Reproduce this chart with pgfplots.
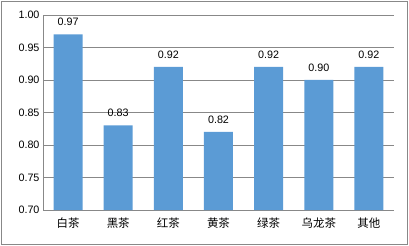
\documentclass[border=0pt]{standalone}
\usepackage{pgfplots}
\pgfplotsset{compat=1.18}
\usepackage{fontspec}
\setmainfont{Liberation Sans}
\newfontfamily\cjk{Noto Sans CJK SC}
\definecolor{barblue}{HTML}{5B9BD5}
\definecolor{gridgray}{HTML}{888888}
\begin{document}
\begin{tikzpicture}
\useasboundingbox (0,0) rectangle (409bp,246bp);
\draw[gridgray, line width=0.8bp] (1bp,2bp) rectangle (407bp,245bp);
\begin{axis}[
  at={(43bp,36bp)}, anchor=south west,
  scale only axis, width=351bp, height=195bp,
  ymin=0.70, ymax=1.00, ytick={0.70,0.75,...,1.001},
  xmin=-0.5, xmax=6.5,
  xtick=data,
  xticklabels={白茶,黑茶,红茶,黄茶,绿茶,乌龙茶,其他},
  xticklabel style={font=\cjk\fontsize{11.5}{13}\selectfont, yshift=-4bp},
  yticklabel style={/pgf/number format/fixed, /pgf/number format/fixed zerofill, /pgf/number format/precision=2, font=\fontsize{10.8}{12}\selectfont},
  /pgf/number format/assume math mode=true,
  major tick length=0pt,
  ymajorgrids, grid style={gridgray, line width=0.8bp},
  axis x line*=bottom, axis y line*=left,
  axis line style={gridgray, line width=0.8bp, -},
  ybar, bar width=29bp,
  nodes near coords,
  nodes near coords style={font=\fontsize{10.8}{12}\selectfont, yshift=5bp, /pgf/number format/fixed, /pgf/number format/fixed zerofill, /pgf/number format/precision=2},
  every node near coord/.append style={/pgf/number format/assume math mode=true},
  clip=false,
]
\addplot[fill=barblue, draw=none] coordinates {(0,0.97) (1,0.83) (2,0.92) (3,0.82) (4,0.92) (5,0.90) (6,0.92)};
\end{axis}
\end{tikzpicture}
\end{document}
